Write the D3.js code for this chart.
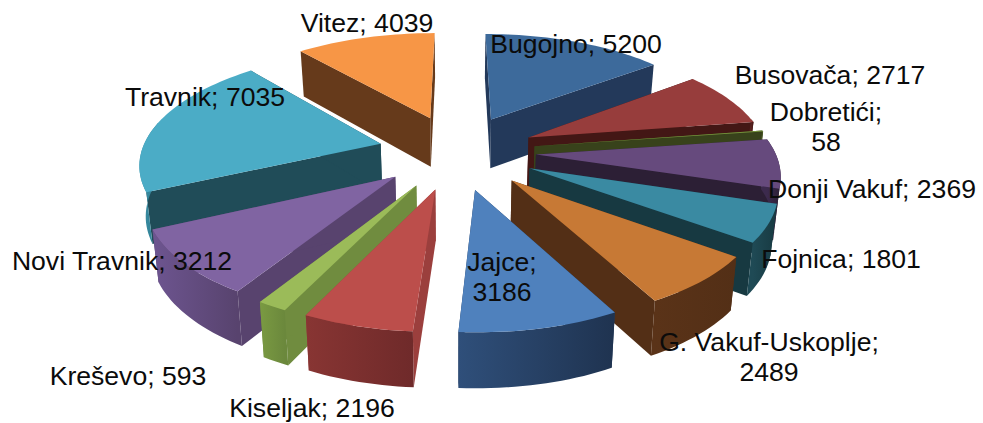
<!DOCTYPE html>
<html><head><meta charset="utf-8">
<script src="https://cdnjs.cloudflare.com/ajax/libs/d3/7.8.5/d3.min.js"></script>
<style>html,body{margin:0;padding:0;background:#fff;overflow:hidden}svg{display:block}
text{font-family:"Liberation Sans",Arial,sans-serif;font-size:26.6px;fill:#0b0b0b}</style>
</head><body><svg id="c" width="983" height="423"></svg>
<script>
const categories=["Bugojno","Busovača","Dobretići","Donji Vakuf","Fojnica","G. Vakuf-Uskoplje","Jajce","Kiseljak","Kreševo","Novi Travnik","Travnik","Vitez"];
const values=[5200,2717,58,2369,1801,2489,3186,2196,593,3212,7035,4039];
const labelLines=[["Bugojno; 5200"],["Busovača; 2717"],["Dobretići;","58"],["Donji Vakuf; 2369"],["Fojnica; 1801"],["G. Vakuf-Uskoplje;","2489"],["Jajce;","3186"],["Kiseljak; 2196"],["Kreševo; 593"],["Novi Travnik; 3212"],["Travnik; 7035"],["Vitez; 4039"]];
const labelX=[576,830,826,872,841,769,502,312,128,122,205,367];
const labelY=[53,84,121,198,268,351,271,417,385,270,106,32];
const topColors=["#3d6a9b","#973d3c","#76923c","#664a7d","#3a8aa2","#c77935","#4f81bd","#bc4e4b","#9bbb59","#8064a2","#4bacc6","#f79646"];
const sideColors=["#23395a","#431715","#38421b","#2c1f35","#173941","#532f16","#23395a","#9b3f3d","#708c3f","#58436e","#204c58","#663a1b"];
const rimFrom=["#2a4668","#5a2120","#4a5a25","#3c2a4d","#1f4a55","#5a3318","#2f4f7a","#883533","#7a9a42","#6d5590","#3b8fa5","#d0813d"];
const rimTo=["#23395a","#431715","#38421b","#2c1f35","#173941","#532f16","#1f3350","#6f2a2a","#6b883c","#58436e","#2f7d92","#c9793a"];
const drawOrder=[11,0,10,1,2,3,4,5,9,8,7,6];

const K=0.155, EXPLODE=0.33, DROP=50, INSET=0.02, RIM_CUT=0.2;
const x=d3.scaleLinear().domain([-1,1]).range([218,696]);
const y=d3.scaleLinear().domain([-1,1]).range([38,265]);
const persp=v=>1+K*v;
const project=(u,v)=>[x(u*persp(v)),y(v*persp(v))];
const lower=(u,v)=>{const p=project(u,v),c=x(0);return [c+(p[0]-c)*(1-INSET),p[1]+DROP*(1+0.09*v)];};

const svg=d3.select("#c"),defs=svg.append("defs");
const arcs=d3.pie().sort(null)(values);
const line=d3.line();

drawOrder.forEach(i=>{
  const a=arcs[i],mid=(a.startAngle+a.endAngle)/2;
  const ou=EXPLODE*Math.sin(mid),ov=-EXPLODE*Math.cos(mid);
  const rimPt=t=>[ou+Math.sin(t),ov-Math.cos(t)];
  const n=Math.max(2,Math.ceil((a.endAngle-a.startAngle)/0.03));
  const ts=d3.range(n+1).map(k=>a.startAngle+(a.endAngle-a.startAngle)*k/n);
  const rim=ts.map(rimPt),apex=[ou,ov];
  const g=svg.append("g").attr("class","slice");
  const up=rim.map(p=>project(...p)),dn=rim.map(p=>lower(...p));
  const ap=project(...apex),ad=lower(...apex);
  g.append("path").attr("d",line([ap,up[0],dn[0],ad])+"Z").attr("fill",sideColors[i]);
  g.append("path").attr("d",line([ap,up[n],dn[n],ad])+"Z").attr("fill",sideColors[i]);
  const keep=ts.map(t=>Math.cos(t)<RIM_CUT);
  const upV=up.filter((p,k)=>keep[k]),dnV=dn.filter((p,k)=>keep[k]);
  if(upV.length>1){
    const gid="rim"+i,ext=d3.extent(upV,p=>p[0]);
    const gr=defs.append("linearGradient").attr("id",gid).attr("gradientUnits","userSpaceOnUse")
      .attr("x1",ext[0]).attr("x2",ext[1]).attr("y1",0).attr("y2",0);
    gr.append("stop").attr("offset",0).attr("stop-color",rimFrom[i]);
    gr.append("stop").attr("offset",1).attr("stop-color",rimTo[i]);
    g.append("path").attr("d",line(upV.concat(dnV.slice().reverse()))+"Z").attr("fill",`url(#${gid})`);
  }
  g.append("path").attr("d",line([ap].concat(up))+"Z").attr("fill",topColors[i]);
});

labelLines.forEach((ls,i)=>{
  const t=svg.append("text").attr("text-anchor","middle");
  ls.forEach((s,j)=>t.append("tspan").attr("x",labelX[i]).attr("y",labelY[i]+j*30).text(s));
});
</script></body></html>
